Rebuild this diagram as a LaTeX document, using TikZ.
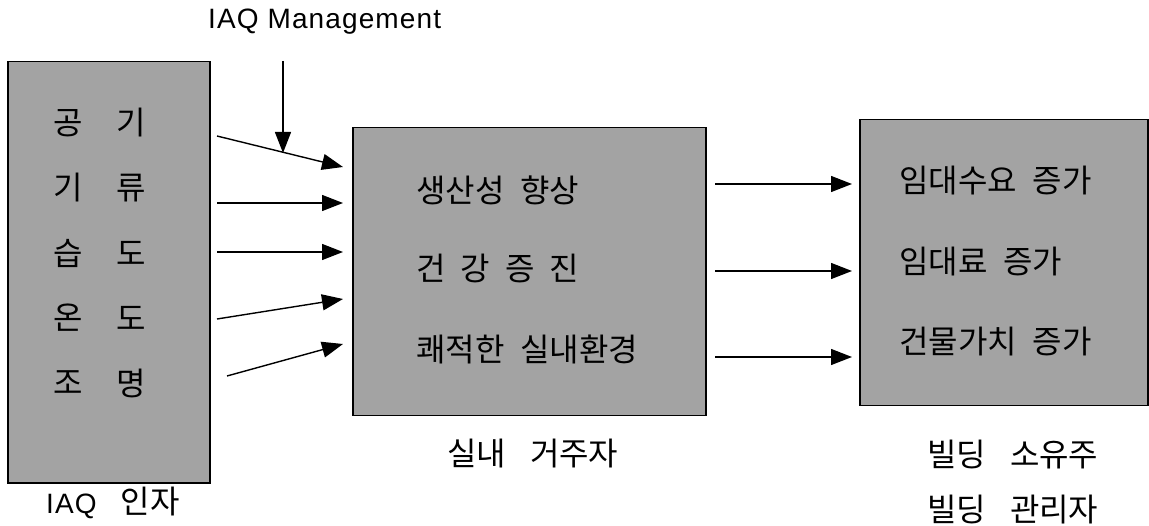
\documentclass[tikz,border=0pt]{standalone}
\usepackage{fontspec}
\setmainfont{Liberation Sans}[LetterSpace=4]
\newfontfamily\kr{Noto Sans CJK KR}
\usetikzlibrary{arrows.meta}
\tikzset{
  box/.style={draw=black, line width=1.5pt, fill=black!36, inner sep=0pt, anchor=north west},
  arr/.style={line width=1.4pt, -{Triangle[length=21pt,width=16pt]}},
  kc/.style={font=\kr\fontsize{32}{34}\selectfont, inner sep=0pt, anchor=center},
  kt/.style={font=\kr\fontsize{32}{34}\selectfont, inner sep=0pt, anchor=west},
  lt/.style={font=\fontsize{28}{32}\selectfont, inner sep=0pt, anchor=west},
}
\begin{document}
\begin{tikzpicture}[x=1pt,y=-1pt]
\useasboundingbox (0,0) rectangle (1149,526);
% boxes
\node[box, minimum width=202pt, minimum height=421pt] (L) at (7,61) {};
\node[box, minimum width=353pt, minimum height=288pt] (M) at (352,127) {};
\node[box, minimum width=288pt, minimum height=286pt] (R) at (859,119) {};
% left box texts
\node[kc] (l1a) at (68,123) {공}; \node[kc] (l1b) at (131,123) {기};
\node[kc] (l2a) at (68,188) {기}; \node[kc] (l2b) at (131,188) {류};
\node[kc] (l3a) at (68,253) {습}; \node[kc] (l3b) at (131,253) {도};
\node[kc] (l4a) at (68,318) {온}; \node[kc] (l4b) at (131,318) {도};
\node[kc] (l5a) at (68,383) {조}; \node[kc] (l5b) at (131,383) {명};
% middle box texts
\node[kt] (m1) at (416,190) {생산성\hspace{16pt}향상};
\node[kt] (m2) at (416,268) {건\hspace{15pt}강\hspace{15pt}증\hspace{15pt}진};
\node[kt] (m3) at (416,349) {쾌적한\hspace{16pt}실내환경};
% right box texts
\node[kt] (r1) at (899,181) {임대수요\hspace{16pt}증가};
\node[kt] (r2) at (899,262) {임대료\hspace{16pt}증가};
\node[kt] (r3) at (899,342) {건물가치\hspace{16pt}증가};
% labels
\node[lt] (mg) at (208,22) {IAQ Management};
\node[lt] (lf) at (46,503) {IAQ\hspace{24pt}{\kr\fontsize{32}{34}\selectfont 인자}};
\node[kt] (lo) at (447,454) {실내\hspace{24pt}거주자};
\node[kt] (lr1) at (927,455) {빌딩\hspace{24pt}소유주};
\node[kt] (lr2) at (927,510) {빌딩\hspace{24pt}관리자};
% arrow end points
\coordinate (a1s) at (217,136); \coordinate (a1e) at (343,167);
\coordinate (a2s) at (217,203); \coordinate (a2e) at (343,203);
\coordinate (a3s) at (217,252); \coordinate (a3e) at (343,252);
\coordinate (a4s) at (217,319); \coordinate (a4e) at (343,299);
\coordinate (a5s) at (227,376); \coordinate (a5e) at (343,344);
\coordinate (mgs) at (283,61);  \coordinate (mge) at (283,153);
\coordinate (b1s) at (715,184); \coordinate (b1e) at (852,184);
\coordinate (b2s) at (715,271); \coordinate (b2e) at (852,271);
\coordinate (b3s) at (715,357); \coordinate (b3e) at (852,357);
% arrows
\draw[arr] (a1s) -- (a1e);
\draw[arr] (a2s) -- (a2e);
\draw[arr] (a3s) -- (a3e);
\draw[arr] (a4s) -- (a4e);
\draw[arr] (a5s) -- (a5e);
\draw[arr] (mgs) -- (mge);
\draw[arr] (b1s) -- (b1e);
\draw[arr] (b2s) -- (b2e);
\draw[arr] (b3s) -- (b3e);
\end{tikzpicture}
\end{document}
